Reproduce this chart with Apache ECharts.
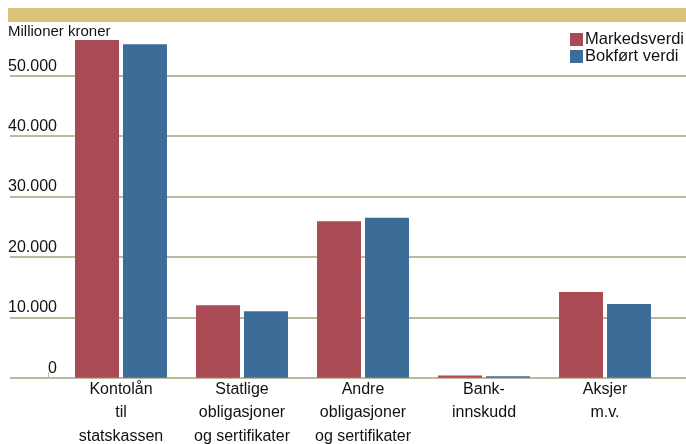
<!DOCTYPE html>
<html>
<head>
<meta charset="utf-8">
<script src="https://cdn.jsdelivr.net/npm/echarts@6/dist/echarts.min.js"></script>
<style>html,body{margin:0;padding:0;background:#fff}#c{width:686px;height:444px}</style>
</head>
<body>
<div id="c"></div>
<script>
var categories = ['Kontolån\ntil\nstatskassen', 'Statlige\nobligasjoner\nog sertifikater', 'Andre\nobligasjoner\nog sertifikater', 'Bank-\ninnskudd', 'Aksjer\nm.v.'];
var markedsverdi = [55900, 12000, 25900, 350, 14200];
var bokfortVerdi = [55200, 11000, 26500, 250, 12200];
var seriesNames = ['Markedsverdi', 'Bokført verdi'];
var yTicks = { min: 0, max: 50000, interval: 10000 };
var unitLabel = 'Millioner kroner';

// pick the narrowest installed sans font
var ctx = document.createElement('canvas').getContext('2d');
function w(font, size, txt) { ctx.font = size + 'px ' + font; return ctx.measureText(txt).width; }
var cands = ['Liberation Sans Narrow', 'DejaVu Sans Condensed', 'Roboto', 'Liberation Sans', 'Lato', 'Open Sans'];
var FONTNAME = 'Liberation Sans', best = 1e9;
cands.forEach(function (f) {
  var a = w('"' + f + '", monospace', 18, 'og sertifikater'), b = w('"' + f + '", serif', 18, 'og sertifikater');
  if (Math.abs(a - b) < 0.01 && a < best) { best = a; FONTNAME = f; }
});
var FONT = '"' + FONTNAME + '", sans-serif';
var xSize = 16, ySize = 16, unitSize = 15, legSize = 16.5;

var RED = '#a94a55', BLUE = '#3b6d98', GRID = '#bdb9a0';
var chart = echarts.init(document.getElementById('c'), null, { renderer: 'canvas' });
var TOP = 75.7, BOTTOM = 444 - 377.7;

chart.setOption({
  animation: false,
  textStyle: { fontFamily: FONT, color: '#111' },
  graphic: [
    { type: 'rect', shape: { x: 8, y: 8, width: 678, height: 14 }, style: { fill: '#dbc27a' }, silent: true },
    { type: 'text', left: 8, top: 24.5, style: { text: unitLabel, font: unitSize + 'px ' + FONT, fill: '#111' } },
    { type: 'line', shape: { x1: 48.5, y1: 372, x2: 48.5, y2: 377 }, style: { stroke: GRID, lineWidth: 1 }, silent: true }
  ],
  legend: {
    orient: 'vertical', left: 565, top: 26, itemWidth: 13, itemHeight: 13, itemGap: 0,
    icon: 'rect', data: seriesNames,
    textStyle: { fontFamily: FONT, fontSize: legSize, lineHeight: 16.3, color: '#111', padding: [0, 0, 0, -3] }
  },
  grid: [
    { left: 10, right: 0, top: TOP, bottom: BOTTOM, outerBoundsMode: 'none', containLabel: false },
    { left: 60.5, width: 605, top: TOP, bottom: BOTTOM, outerBoundsMode: 'none', containLabel: false }
  ],
  xAxis: [
    { gridIndex: 0, type: 'value', show: false, min: 0, max: 1 },
    { gridIndex: 1, type: 'category', data: categories,
      axisLine: { show: false }, axisTick: { show: false },
      axisLabel: { interval: 0, margin: 0, fontFamily: FONT, fontSize: xSize, lineHeight: 23.5, color: '#111' } }
  ],
  yAxis: [
    { gridIndex: 0, type: 'value', min: yTicks.min, max: yTicks.max, interval: yTicks.interval,
      axisLine: { show: false }, axisTick: { show: false },
      splitLine: { show: true, lineStyle: { color: GRID, width: 2 } },
      axisLabel: { inside: true, margin: 47, align: 'right', verticalAlign: 'bottom', fontFamily: FONT, fontSize: ySize, color: '#111', padding: [0, 0, 1.5, 0],
        formatter: function (v) { return v === 0 ? '0' : (v / 1000) + '.000'; } } },
    { gridIndex: 1, type: 'value', min: yTicks.min, max: yTicks.max, interval: yTicks.interval, show: false }
  ],
  series: [
    { name: seriesNames[0], type: 'bar', xAxisIndex: 1, yAxisIndex: 1, data: markedsverdi, barWidth: 44, barGap: '9%', clip: false, itemStyle: { color: RED } },
    { name: seriesNames[1], type: 'bar', xAxisIndex: 1, yAxisIndex: 1, data: bokfortVerdi, barWidth: 44, barGap: '9%', clip: false, itemStyle: { color: BLUE } }
  ]
});
</script>
</body>
</html>
